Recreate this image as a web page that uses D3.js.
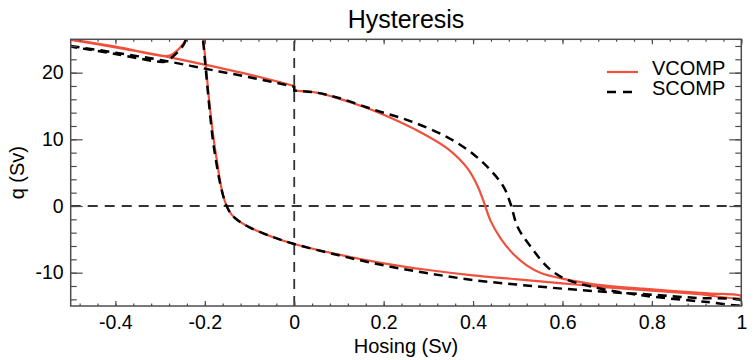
<!DOCTYPE html>
<html>
<head>
<meta charset="utf-8">
<script src="https://cdn.jsdelivr.net/npm/d3@7"></script>
<style>
  html, body { margin: 0; padding: 0; background: #fff; }
  svg { display: block; font-family: "Liberation Sans", Arial, Helvetica, sans-serif; }
</style>
</head>
<body>
<svg id="chart" width="754" height="360"></svg>
<script>
// ---- data ----
const title = "Hysteresis";
const xLabel = "Hosing (Sv)";
const yLabel = "q (Sv)";
const seriesNames = ["VCOMP", "SCOMP"];

const xTickValues = [-0.4, -0.2, 0, 0.2, 0.4, 0.6, 0.8, 1];
const xTickLabels = ["-0.4", "-0.2", "0", "0.2", "0.4", "0.6", "0.8", "1"];
const yTickValues = [-10, 0, 10, 20];
const yTickLabels = ["-10", "0", "10", "20"];

// VCOMP: up the hosing axis from -0.5 to 1, then back down to -0.5
const vcompX = [-0.5, -0.4, -0.3, -0.2, -0.1, 0, 0, 0.05, 0.1, 0.15, 0.2, 0.267, 0.343, 0.388, 0.41, 0.424, 0.439, 0.462, 0.49, 0.52, 0.553, 0.6, 0.666, 0.78, 0.925, 1.0,
  1.0, 0.9, 0.8, 0.7, 0.6, 0.5, 0.4, 0.3, 0.2, 0.1, 0, -0.05, -0.1, -0.125, -0.14, -0.15, -0.158, -0.166, -0.173, -0.18, -0.19, -0.196, -0.203, -0.21, -0.225, -0.235, -0.24, -0.25, -0.262, -0.277, -0.292, -0.4, -0.5];
const vcompQ = [24.9, 23.8, 22.6, 21.2, 19.7, 18.0, 17.3, 17.0, 16.1, 15.0, 13.7, 11.6, 8.6, 5.6, 3.0, 0.6, -2.2, -4.9, -7.2, -8.9, -10.1, -10.9, -11.7, -12.4, -13.1, -13.5,
  -13.8, -13.2, -12.7, -12.2, -11.6, -11.0, -10.4, -9.6, -8.6, -7.3, -5.7, -4.6, -3.2, -2.2, -1.3, -0.2, 1.3, 3.8, 6.8, 9.9, 15.6, 19.9, 24.9, 30, 33, 29, 25.3, 24.2, 23.3, 22.6, 22.5, 23.9, 25.0];

// SCOMP
const scompX = [-0.5, -0.4, -0.3, -0.2, -0.1, 0, 0, 0.05, 0.1, 0.18, 0.261, 0.343, 0.4, 0.44, 0.469, 0.484, 0.5, 0.53, 0.567, 0.605, 0.665, 0.777, 0.925, 1.0,
  1.0, 0.9, 0.8, 0.7, 0.6, 0.5, 0.4, 0.3, 0.2, 0.1, 0, -0.05, -0.1, -0.125, -0.14, -0.15, -0.158, -0.167, -0.175, -0.182, -0.191, -0.197, -0.204, -0.212, -0.228, -0.238, -0.243, -0.262, -0.284, -0.293, -0.4, -0.5];
const scompQ = [24.0, 23.0, 21.9, 20.6, 19.3, 17.9, 17.3, 17.0, 16.2, 14.4, 12.7, 10.3, 7.8, 5.3, 2.8, 0.3, -3.2, -6.2, -9.2, -10.9, -12.1, -13.4, -14.4, -14.8,
  -14.2, -13.8, -13.3, -12.9, -12.4, -11.8, -11.1, -10.1, -8.9, -7.4, -5.7, -4.6, -3.2, -2.2, -1.3, -0.2, 1.3, 3.8, 6.8, 9.9, 15.6, 19.9, 24.9, 30, 33, 29, 24.8, 23.0, 21.8, 21.6, 22.8, 23.9];

// ---- layout ----
const svg = d3.select("#chart");
const L = 70.7, R = 741.3, T = 39.3, B = 306;
const x = d3.scaleLinear().domain([-0.5, 1]).range([L, R]);
const y = d3.scaleLinear().domain([-15, 25]).range([B, T]);
const font = '"Liberation Sans", Arial, Helvetica, sans-serif';
const red = "#f0503c";

svg.append("defs").append("clipPath").attr("id", "clip")
  .append("rect").attr("x", L).attr("y", T).attr("width", R - L).attr("height", B - T);

// zero reference lines
const ref = svg.append("g").attr("clip-path", "url(#clip)");
ref.append("line").attr("x1", x(-0.5)).attr("x2", x(1)).attr("y1", y(0)).attr("y2", y(0))
  .attr("stroke", "#333").attr("stroke-width", 1.8).attr("stroke-dasharray", "10,7");
ref.append("line").attr("x1", x(0)).attr("x2", x(0)).attr("y1", y(-15)).attr("y2", y(25))
  .attr("stroke", "#333").attr("stroke-width", 1.8).attr("stroke-dasharray", "10,7");

// curves: smooth pieces, with vertical jumps (same x, consecutive) drawn straight
const smooth = d3.line().x(d => x(d[0])).y(d => y(d[1])).curve(d3.curveCatmullRom.alpha(0.5));
function pathFor(xs, qs) {
  const pts = xs.map((v, i) => [v, qs[i]]);
  const pieces = [];
  let cur = [pts[0]];
  for (let i = 1; i < pts.length; i++) {
    const jump = pts[i][0] === pts[i - 1][0] && Math.abs(pts[i][1] - pts[i - 1][1]) > 0.01 &&
      pts[i][0] === 0;
    if (jump) { pieces.push(cur); cur = [pts[i]]; } else cur.push(pts[i]);
  }
  pieces.push(cur);
  let d = "";
  pieces.forEach((p, k) => {
    const s = smooth(p);
    d += k === 0 ? s : "L" + s.slice(1);
  });
  return d;
}
const curves = svg.append("g").attr("clip-path", "url(#clip)");
curves.append("path").attr("d", pathFor(vcompX, vcompQ))
  .attr("fill", "none").attr("stroke", red).attr("stroke-width", 2.2)
  .attr("stroke-linejoin", "round");
curves.append("path").attr("d", pathFor(scompX, scompQ))
  .attr("fill", "none").attr("stroke", "#000").attr("stroke-width", 2.5)
  .attr("stroke-dasharray", "9,6");

// axes
const axisColor = "#4d4d4d";
function styleAxis(g) {
  g.select(".domain").remove();
  g.selectAll(".tick line").attr("stroke", axisColor).attr("stroke-width", 1.2);
  g.selectAll("text").attr("font-family", font).attr("font-size", 19.5).attr("fill", "#000");
}
const xMinor = d3.range(-0.48, 1.0001, 0.04).map(v => +v.toFixed(2));
const yMinor = d3.range(-14, 25, 2);

svg.append("g").attr("transform", `translate(0,${B})`)
  .call(d3.axisBottom(x).tickValues(xMinor).tickSize(-2.5).tickFormat(""))
  .call(styleAxis);
svg.append("g").attr("transform", `translate(0,${B})`)
  .call(d3.axisBottom(x).tickValues(xTickValues).tickSize(-5).tickPadding(9.5)
    .tickFormat((d, i) => xTickLabels[i]))
  .call(styleAxis);
svg.append("g").attr("transform", `translate(0,${T})`)
  .call(d3.axisTop(x).tickValues(xMinor).tickSize(-2.5).tickFormat(""))
  .call(styleAxis);
svg.append("g").attr("transform", `translate(0,${T})`)
  .call(d3.axisTop(x).tickValues(xTickValues).tickSize(-5).tickFormat(""))
  .call(styleAxis);

svg.append("g").attr("transform", `translate(${L},0)`)
  .call(d3.axisLeft(y).tickValues(yMinor).tickSize(-6).tickFormat(""))
  .call(styleAxis);
svg.append("g").attr("transform", `translate(${L},0)`)
  .call(d3.axisLeft(y).tickValues(yTickValues).tickSize(-12).tickPadding(7)
    .tickFormat((d, i) => yTickLabels[i]))
  .call(styleAxis);
svg.append("g").attr("transform", `translate(${R},0)`)
  .call(d3.axisRight(y).tickValues(yMinor).tickSize(-6).tickFormat(""))
  .call(styleAxis);
svg.append("g").attr("transform", `translate(${R},0)`)
  .call(d3.axisRight(y).tickValues(yTickValues).tickSize(-12).tickFormat(""))
  .call(styleAxis);

// frame
svg.append("rect").attr("x", L).attr("y", T).attr("width", R - L).attr("height", B - T)
  .attr("fill", "none").attr("stroke", axisColor).attr("stroke-width", 1.5);

// labels
svg.append("text").attr("x", (L + R) / 2).attr("y", 28).attr("text-anchor", "middle")
  .attr("font-family", font).attr("font-size", 25).text(title);
svg.append("text").attr("x", (L + R) / 2).attr("y", 353).attr("text-anchor", "middle")
  .attr("font-family", font).attr("font-size", 20).text(xLabel);
svg.append("text").attr("transform", `translate(24,${(T + B) / 2}) rotate(-90)`)
  .attr("text-anchor", "middle").attr("font-family", font).attr("font-size", 20).text(yLabel);

// legend
const leg = svg.append("g");
leg.append("line").attr("x1", 607).attr("x2", 638).attr("y1", 72).attr("y2", 72)
  .attr("stroke", red).attr("stroke-width", 2.2);
leg.append("line").attr("x1", 607).attr("x2", 638).attr("y1", 92).attr("y2", 92)
  .attr("stroke", "#000").attr("stroke-width", 2.5).attr("stroke-dasharray", "9,7");
leg.append("text").attr("x", 652).attr("y", 75).attr("font-family", font).attr("font-size", 20).text(seriesNames[0]);
leg.append("text").attr("x", 652).attr("y", 95).attr("font-family", font).attr("font-size", 20).text(seriesNames[1]);
</script>
</body>
</html>
